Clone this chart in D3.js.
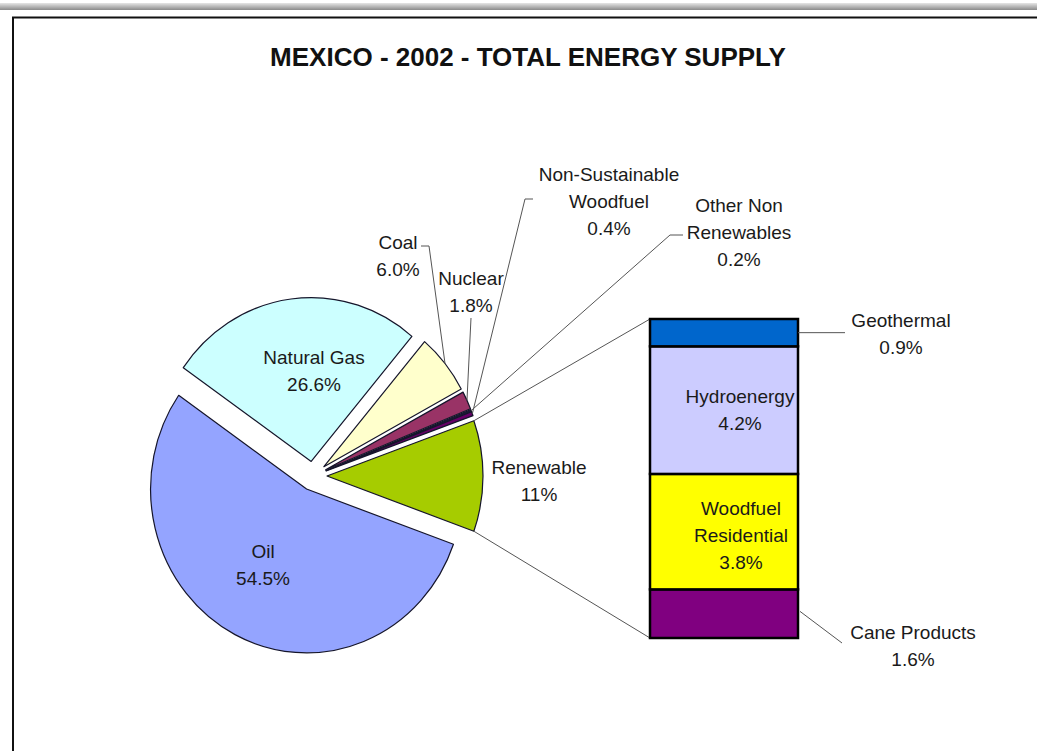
<!DOCTYPE html>
<html>
<head>
<meta charset="utf-8">
<script src="https://cdn.jsdelivr.net/npm/d3@7"></script>
<style>
  html, body { margin: 0; padding: 0; background: #fff; }
  svg { display: block; font-family: "Liberation Sans", Arial, sans-serif; }
</style>
</head>
<body>
<svg id="chart" width="1037" height="751"></svg>
<script>
// Mexico 2002 total energy supply (% of total)
const pieNames  = ["Renewable", "Oil", "Natural Gas", "Coal", "Nuclear", "Other Non Renewables", "Non-Sustainable Woodfuel"];
const pieValues = [11, 54.5, 26.6, 6.0, 1.8, 0.2, 0.4];
const pieColors = ["#a6cc00", "#94a4ff", "#ccffff", "#ffffcc", "#993366", "#1e1a3c", "#660066"];

// Breakdown of the renewable slice (stacked bottom to top)
const barNames  = ["Cane Products", "Woodfuel Residential", "Hydroenergy", "Geothermal"];
const barValues = [1.6, 3.8, 4.2, 0.9];
const barColors = ["#800080", "#ffff00", "#ccccff", "#0066cc"];

const title = "MEXICO - 2002 - TOTAL ENERGY SUPPLY";

// ---- layout ----
const W = 1037, H = 751;
const cx = 313, cy = 476, R = 156, yStretch = 1.05, explode = 14;
const bar = { x0: 650, x1: 798, top: 319, bottom: 638 };
const fontSize = 19, lineGap = 27;

// label placement: [lines, cx, cy of first line, decimals]
const pieLabelPos = {
  "Renewable":                { lines: ["Renewable"], x: 539, y: 467, dec: 0 },
  "Oil":                      { lines: ["Oil"], x: 263, y: 551, dec: 1 },
  "Natural Gas":              { lines: ["Natural Gas"], x: 314, y: 357, dec: 1 },
  "Coal":                     { lines: ["Coal"], x: 398, y: 242, dec: 1 },
  "Nuclear":                  { lines: ["Nuclear"], x: 471, y: 278, dec: 1 },
  "Other Non Renewables":     { lines: ["Other Non", "Renewables"], x: 739, y: 205, dec: 1 },
  "Non-Sustainable Woodfuel": { lines: ["Non-Sustainable", "Woodfuel"], x: 609, y: 174, dec: 1 }
};
const barLabelPos = {
  "Geothermal":           { lines: ["Geothermal"], x: 901, y: 320, dec: 1 },
  "Hydroenergy":          { lines: ["Hydroenergy"], x: 740, y: 396, dec: 1 },
  "Woodfuel Residential": { lines: ["Woodfuel", "Residential"], x: 741, y: 508, dec: 1 },
  "Cane Products":        { lines: ["Cane Products"], x: 913, y: 632, dec: 1 }
};
// leader paths: label-side start points, the last point comes from the slice
const pieLeaders = {
  "Coal":                     [[421, 246], [429, 246]],
  "Nuclear":                  [[471, 318]],
  "Non-Sustainable Woodfuel": [[533, 199], [525, 199]],
  "Other Non Renewables":     [[683, 235], [670, 235]]
};

const svg = d3.select("#chart");

// page frame
const grad = svg.append("defs").append("linearGradient")
  .attr("id", "band").attr("x1", 0).attr("y1", 0).attr("x2", 0).attr("y2", 1);
grad.append("stop").attr("offset", "0%").attr("stop-color", "#e6e6e6");
grad.append("stop").attr("offset", "100%").attr("stop-color", "#8a8a8a");
svg.append("rect").attr("x", 0).attr("y", 3).attr("width", W).attr("height", 7).attr("fill", "url(#band)");
svg.append("path").attr("d", `M13,${H} V17.5 H${W}`)
  .attr("fill", "none").attr("stroke", "#111").attr("stroke-width", 2);

// title
svg.append("text").attr("x", 528).attr("y", 66)
  .attr("text-anchor", "middle").attr("font-weight", "bold")
  .attr("font-size", 26).attr("fill", "#111").text(title);

// ---- pie ----
const total = d3.sum(pieValues);
const renewSpan = pieValues[0] / total * 2 * Math.PI;
const start = Math.PI / 2 - renewSpan / 2;
const pie = d3.pie().sort(null).value(d => d.v)
  .startAngle(start).endAngle(start + 2 * Math.PI);
const arcs = pie(pieNames.map((n, i) => ({ n, v: pieValues[i], c: pieColors[i] })));
const arc = d3.arc().innerRadius(0).outerRadius(R);

const mid = a => (a.startAngle + a.endAngle) / 2;
// point on a slice (exploded) at angle ang and radius rad, in page coords
function slicePt(a, ang, rad) {
  const m = mid(a);
  const x = explode * Math.sin(m) + rad * Math.sin(ang);
  const y = -explode * Math.cos(m) - rad * Math.cos(ang);
  return [cx + x, cy + y * yStretch];
}

const pg = svg.append("g").attr("transform", `translate(${cx},${cy}) scale(1,${yStretch})`);
pg.selectAll("path").data(arcs).join("path")
  .attr("transform", a => `translate(${explode * Math.sin(mid(a))},${-explode * Math.cos(mid(a))})`)
  .attr("d", arc)
  .attr("fill", a => a.data.c)
  .attr("stroke", "#15152a").attr("stroke-width", 1.2)
  .attr("vector-effect", "non-scaling-stroke")
  .attr("stroke-linejoin", "round");

// ---- bar of the renewable slice ----
const barTotal = d3.sum(barValues);
const y = d3.scaleLinear().domain([0, barTotal]).range([bar.bottom, bar.top]);
let acc = 0;
const stack = barValues.map((v, i) => { const s = { n: barNames[i], v, c: barColors[i], y0: acc, y1: acc + v }; acc += v; return s; });

// connectors from the renewable slice to the bar
const ren = arcs[0];
const lineGen = d3.line();
svg.append("path").attr("d", lineGen([slicePt(ren, ren.startAngle, R), [bar.x0, y(barTotal)]]))
  .attr("stroke", "#555").attr("stroke-width", 1).attr("fill", "none");
svg.append("path").attr("d", lineGen([slicePt(ren, ren.endAngle, R), [bar.x0, y(0)]]))
  .attr("stroke", "#555").attr("stroke-width", 1).attr("fill", "none");

svg.append("g").selectAll("rect").data(stack).join("rect")
  .attr("x", bar.x0).attr("width", bar.x1 - bar.x0)
  .attr("y", d => y(d.y1)).attr("height", d => y(d.y0) - y(d.y1))
  .attr("fill", d => d.c).attr("stroke", "#000").attr("stroke-width", 2.5);

// ---- leader lines ----
const leaders = svg.append("g").attr("fill", "none").attr("stroke", "#555").attr("stroke-width", 1);
arcs.forEach(a => {
  const pts = pieLeaders[a.data.n];
  if (!pts) return;
  leaders.append("path").attr("d", lineGen([...pts, slicePt(a, mid(a), R)]));
});
const geo = stack.find(d => d.n === "Geothermal");
leaders.append("path").attr("d", lineGen([[bar.x1, y((geo.y0 + geo.y1) / 2)], [845, y((geo.y0 + geo.y1) / 2)]]));
const cane = stack.find(d => d.n === "Cane Products");
leaders.append("path").attr("d", lineGen([[bar.x1 + 2, y(cane.y1) + 22], [842, 643]]));

// ---- labels ----
const lab = svg.append("g").attr("font-size", fontSize).attr("fill", "#1a1a1a").attr("text-anchor", "middle");
function drawLabel(pos, value) {
  const lines = [...pos.lines, value.toFixed(pos.dec) + "%"];
  lines.forEach((t, i) => {
    lab.append("text").attr("x", pos.x).attr("y", pos.y + i * lineGap)
      .attr("dy", "0.35em").text(t);
  });
}
arcs.forEach(a => drawLabel(pieLabelPos[a.data.n], a.data.v));
stack.forEach(d => drawLabel(barLabelPos[d.n], d.v));
</script>
</body>
</html>
